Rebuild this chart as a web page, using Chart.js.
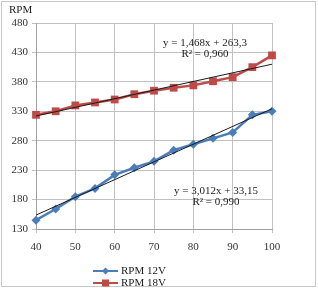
<!DOCTYPE html>
<html lang="en">
<head>
    <meta charset="UTF-8">
    <script src="https://cdn.jsdelivr.net/npm/chart.js@4/dist/chart.umd.min.js"></script>
    <title>RPM vs PWM</title>
    <style>
        body { margin: 0; background: #fff; }
        #wrap { width: 318px; height: 288px; }
    </style>
</head>
<body>
    <div id="wrap"><canvas id="chart" width="318" height="288"></canvas></div>
    <script>
        // data
        const pwm = [40, 45, 50, 55, 60, 65, 70, 75, 80, 85, 90, 95, 100];
        const rpm12 = [145, 164, 185, 199, 222, 234, 245, 264, 274, 284, 294, 324, 330];
        const rpm18 = [324, 330, 340, 345, 350, 359, 365, 370, 374, 381, 388, 405, 425];
        // trend line end points (x = 40 and x = 100)
        const trendX = [40, 100];
        const trend12 = [153.6, 334.4];
        const trend18 = [322, 410];
        const eq12 = ['y = 3,012x + 33,15', 'R² = 0,990'];
        const eq18 = ['y = 1,468x + 263,3', 'R² = 0,960'];

        const serif = '"Liberation Serif", "Times New Roman", serif';
        const blue = '#4a7ebb';
        const red = '#be4b48';

        const pts = (xs, ys) => xs.map((x, i) => ({ x: x, y: ys[i] }));

        // axis titles, equations, legend and frame
        const extras = {
            id: 'extras',
            afterDraw(chart) {
                const ctx = chart.ctx;
                const xs = chart.scales.x;
                ctx.save();
                ctx.strokeStyle = '#c8c8c8';
                ctx.lineWidth = 1;
                ctx.strokeRect(1.5, 1.5, 314, 285);

                ctx.fillStyle = '#222';
                ctx.font = '11px ' + serif;
                ctx.textBaseline = 'middle';
                ctx.textAlign = 'left';
                ctx.fillText('RPM', 9, 10);
                ctx.fillText('%PWM', 283, xs.bottom + 18);

                ctx.textAlign = 'center';
                ctx.fillText(eq18[0], 205, 43);
                ctx.fillText(eq18[1], 205, 54);
                ctx.fillText(eq12[0], 216, 191);
                ctx.fillText(eq12[1], 216, 202);

                // legend
                const items = chart.data.datasets.filter(d => d.inLegend);
                items.forEach((d, i) => {
                    const y = 271 + i * 12;
                    ctx.strokeStyle = d.borderColor;
                    ctx.lineWidth = 2;
                    ctx.beginPath();
                    ctx.moveTo(93, y);
                    ctx.lineTo(118, y);
                    ctx.stroke();
                    ctx.fillStyle = d.backgroundColor;
                    if (d.pointStyle === 'rect') {
                        ctx.fillRect(102, y - 3.5, 7, 7);
                    } else {
                        ctx.beginPath();
                        ctx.moveTo(105.5, y - 3.5);
                        ctx.lineTo(109, y);
                        ctx.lineTo(105.5, y + 3.5);
                        ctx.lineTo(102, y);
                        ctx.closePath();
                        ctx.fill();
                    }
                    ctx.fillStyle = '#222';
                    ctx.textAlign = 'left';
                    ctx.fillText(d.label, 121, y);
                });
                ctx.restore();
            }
        };

        new Chart(document.getElementById('chart'), {
            type: 'line',
            data: {
                datasets: [
                    {
                        label: 'trend 12V',
                        data: pts(trendX, trend12),
                        borderColor: '#1a1a1a',
                        borderWidth: 1,
                        pointRadius: 0,
                        order: -1
                    },
                    {
                        label: 'trend 18V',
                        data: pts(trendX, trend18),
                        borderColor: '#1a1a1a',
                        borderWidth: 1,
                        pointRadius: 0,
                        order: -1
                    },
                    {
                        label: 'RPM 12V',
                        inLegend: true,
                        data: pts(pwm, rpm12),
                        borderColor: blue,
                        backgroundColor: blue,
                        borderWidth: 2.5,
                        pointStyle: 'rectRot',
                        pointRadius: 4.5,
                        pointBorderWidth: 0,
                        clip: false
                    },
                    {
                        label: 'RPM 18V',
                        inLegend: true,
                        data: pts(pwm, rpm18),
                        borderColor: red,
                        backgroundColor: red,
                        borderWidth: 2.5,
                        pointStyle: 'rect',
                        pointRadius: 5.5,
                        pointBorderWidth: 0,
                        clip: false
                    }
                ]
            },
            options: {
                responsive: false,
                animation: false,
                layout: { padding: { left: 0, top: 23, right: 46, bottom: 0 } },
                plugins: { legend: { display: false }, tooltip: { enabled: false } },
                scales: {
                    x: {
                        type: 'linear',
                        min: 40,
                        max: 100,
                        ticks: { stepSize: 10, color: '#333', padding: 8, font: { family: serif, size: 11 } },
                        grid: { color: '#c0c0c0', tickLength: 4 },
                        border: { color: '#a0a0a0' },
                        afterFit: s => { s.height = 59; }
                    },
                    y: {
                        min: 130,
                        max: 480,
                        ticks: { stepSize: 50, color: '#333', padding: 4, font: { family: serif, size: 11 } },
                        grid: { color: '#c0c0c0', tickLength: 4 },
                        border: { color: '#a0a0a0' },
                        afterFit: s => { s.width = 36; }
                    }
                }
            },
            plugins: [extras]
        });
    </script>
</body>
</html>
